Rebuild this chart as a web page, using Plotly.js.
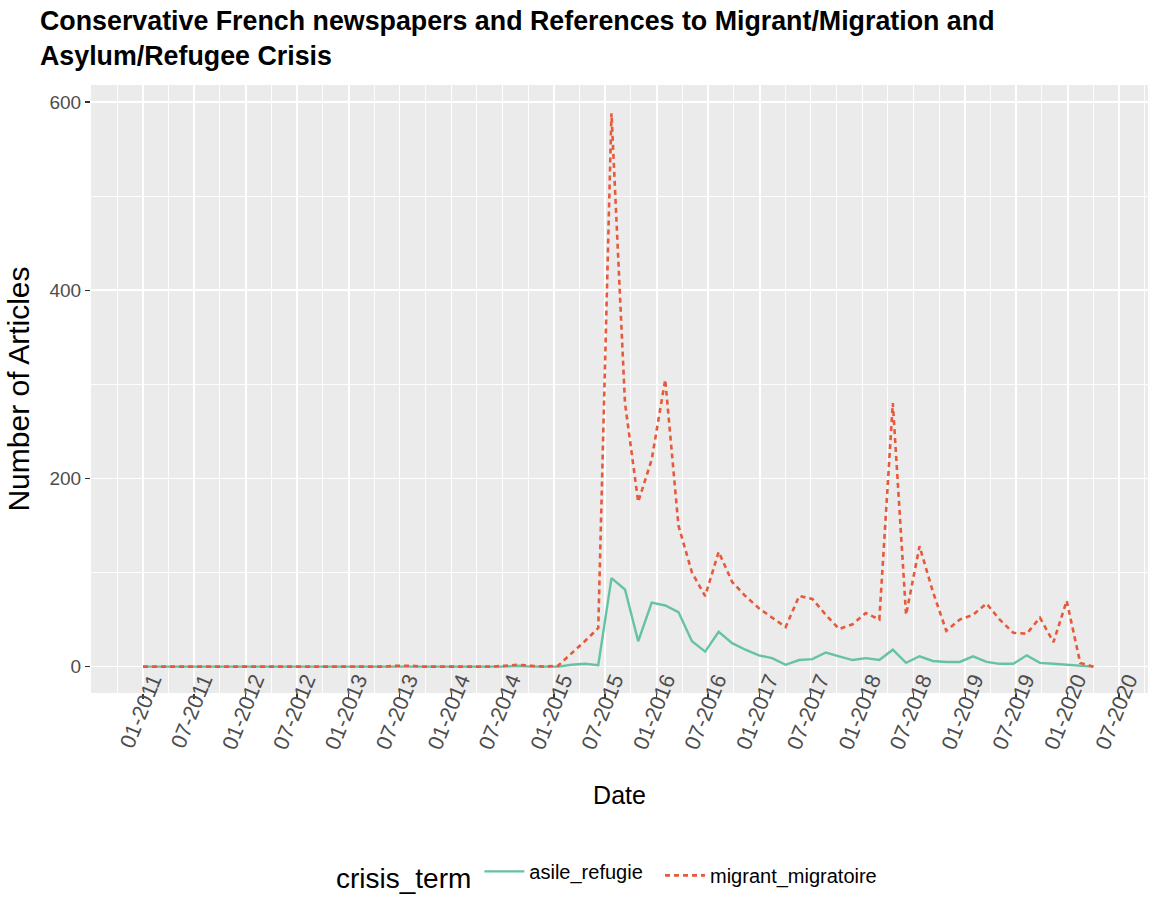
<!DOCTYPE html>
<html>
<head>
<meta charset="utf-8">
<script src="https://cdn.plot.ly/plotly-3.0.1.min.js"></script>
<style>html,body{margin:0;padding:0;background:#fff;}#chart{width:1150px;height:912px;}</style>
</head>
<body>
<div id="chart"></div>
<script>
// Dates of the observations
const dates = [
  "2011-01-01","2011-02-18","2011-04-06","2011-05-24","2011-07-10","2011-08-27","2011-10-13","2011-11-30",
  "2012-01-17","2012-03-04","2012-04-21","2012-06-07","2012-07-25","2012-09-11","2012-10-28","2012-12-15",
  "2013-01-31","2013-03-20","2013-05-06","2013-06-23","2013-08-10","2013-09-26","2013-11-13","2013-12-30",
  "2014-02-16","2014-04-05","2014-05-22","2014-07-09","2014-08-25","2014-10-12","2014-11-28","2015-01-15",
  "2015-03-04","2015-04-20","2015-06-07","2015-07-24","2015-09-10","2015-10-27","2015-12-14","2016-01-31",
  "2016-03-18","2016-05-05","2016-06-21","2016-08-08","2016-09-25","2016-11-11","2016-12-29","2017-02-14",
  "2017-04-03","2017-05-21","2017-07-07","2017-08-24","2017-10-10","2017-11-27","2018-01-13","2018-03-02",
  "2018-04-19","2018-06-05","2018-07-23","2018-09-08","2018-10-26","2018-12-13","2019-01-29","2019-03-18",
  "2019-05-04","2019-06-21","2019-08-08","2019-09-24","2019-11-11","2019-12-28","2020-02-14","2020-04-01"
];

// asile_refugie counts
const asileRefugie = [
  0,0,0,0,0,0,0,0,
  0,0,0,0,0,0,0,0,
  0,0,0,0,0,0,0,0,
  0,0,0,0,1,0,0,0,
  2,3,1.5,94,82,27,68,65,
  58,27,16,37,25,18,12,9,
  2,7,8,15,11,7,9,7,
  18,4,11,6,5,5,11,5,
  3,3,12,4,3,2,1,0
];

// migrant_migratoire counts
const migrantMigratoire = [
  0,0,0,0,0,0,0,0,
  0,0,0,0,0,0,0,0,
  0,0,0,1,1,0,0,0,
  0,0,0,1,2,1,0,1,
  14,27,41,588,280,175,220,305,
  150,100,75,122,90,75,62,52,
  42,75,72,55,40,45,57,50,
  280,55,128,80,38,50,55,67,
  50,36,35,52,26,70,4,0
];

// x-axis tick positions and labels
const xTickVals = [
  "2011-01-01","2011-07-01","2012-01-01","2012-07-01","2013-01-01","2013-07-01","2014-01-01",
  "2014-07-01","2015-01-01","2015-07-01","2016-01-01","2016-07-01","2017-01-01","2017-07-01",
  "2018-01-01","2018-07-01","2019-01-01","2019-07-01","2020-01-01","2020-07-01"
];
const xTickText = [
  "01-2011","07-2011","01-2012","07-2012","01-2013","07-2013","01-2014",
  "07-2014","01-2015","07-2015","01-2016","07-2016","01-2017","07-2017",
  "01-2018","07-2018","01-2019","07-2019","01-2020","07-2020"
];
const yTickVals = [0, 200, 400, 600];

const seriesNames = ["asile_refugie", "migrant_migratoire"];
const legendTitle = "crisis_term";
const titleText = "Conservative French newspapers and References to Migrant/Migration and<br>Asylum/Refugee Crisis";
const xTitle = "Date";
const yTitle = "Number of Articles";

const traces = [
  {
    x: dates, y: asileRefugie, name: seriesNames[0], type: "scatter", mode: "lines",
    line: {color: "#66C2A5", width: 2.4}, legend: "legend"
  },
  {
    x: dates, y: migrantMigratoire, name: seriesNames[1], type: "scatter", mode: "lines",
    line: {color: "#E65A3C", width: 2.6, dash: "5px,4px"}, legend: "legend2"
  }
];

const legendCommon = {
  orientation: "h",
  xanchor: "left",
  y: -0.30, yanchor: "middle",
  font: {size: 20, color: "#000000"},
  bgcolor: "rgba(0,0,0,0)",
  itemwidth: 40
};

const layout = {
  width: 1150, height: 912,
  paper_bgcolor: "#ffffff",
  plot_bgcolor: "#EBEBEB",
  margin: {l: 91, r: 2, t: 85, b: 219},
  font: {family: "Liberation Sans, Arial, sans-serif", color: "#4D4D4D"},
  title: {
    text: "<b>" + titleText + "</b>",
    font: {family: "Liberation Sans, Arial, sans-serif", size: 26.8, color: "#000000"},
    x: 40/1150, xanchor: "left", xref: "container",
    y: 1 - 30/912, yanchor: "top", yref: "container"
  },
  xaxis: {
    type: "date",
    range: ["2010-06-30", "2020-10-12"],
    tickmode: "array", tickvals: xTickVals, ticktext: xTickText,
    tickangle: -68,
    ticks: "outside", ticklen: 5, tickwidth: 1.2, tickcolor: "#333333",
    tickfont: {size: 21.5, color: "#4D4D4D"},
    ticklabelstandoff: -40,
    ticklabelshift: 9,
    showgrid: true, gridcolor: "#FFFFFF", gridwidth: 1.6,
    minor: {tick0: "2011-01-01", dtick: "M3", showgrid: true, gridcolor: "#FFFFFF", gridwidth: 0.9, ticks: ""},
    zeroline: false, showline: false,
    title: {text: xTitle, font: {size: 25, color: "#000000"}, standoff: 34}
  },
  yaxis: {
    range: [-28, 618],
    tickmode: "array", tickvals: yTickVals,
    ticks: "outside", ticklen: 5, tickwidth: 1.2, tickcolor: "#333333",
    tickfont: {size: 19, color: "#4D4D4D"},
    showgrid: true, gridcolor: "#FFFFFF", gridwidth: 1.6,
    minor: {tickvals: [100, 300, 500], showgrid: true, gridcolor: "#FFFFFF", gridwidth: 0.9, ticks: ""},
    zeroline: false, showline: false,
    title: {text: yTitle, font: {size: 30, color: "#000000"}, standoff: 10}
  },
  showlegend: true,
  legend: Object.assign({}, legendCommon, {
    x: (334 - 91) / 1057,
    title: {text: legendTitle, side: "left", font: {size: 28, color: "#000000"}}
  }),
  legend2: Object.assign({}, legendCommon, {
    x: (660 - 91) / 1057
  })
};

Plotly.newPlot("chart", traces, layout, {displayModeBar: false, staticPlot: true});
</script>
</body>
</html>
